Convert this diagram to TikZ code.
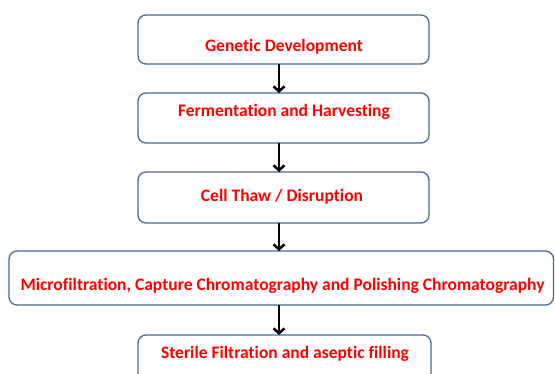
\documentclass[tikz,border=0pt]{standalone}
\usepackage{fontspec}
\setmainfont[RawFeature=-liga]{Carlito}
\usetikzlibrary{arrows.meta}
\definecolor{boxline}{HTML}{4A6A94}
\definecolor{txtred}{HTML}{FF0000}
\tikzset{
  stepbox/.style={draw=boxline, line width=1.3pt, rounded corners=8pt, rectangle, inner sep=0pt, outer sep=0pt},
  steptext/.style={anchor=base, text=txtred, font=\fontsize{17.5}{20}\selectfont\bfseries, inner sep=0pt},
  flow/.style={line width=2.8pt, -{Straight Barb[length=5pt,width=11pt,line width=2.5pt]}}
}
\begin{document}
\begin{tikzpicture}[x=1pt,y=-1pt]
\useasboundingbox (0,0) rectangle (555,374);
\clip (0,0) rectangle (555,374);
\node[stepbox, minimum width=291pt, minimum height=49pt] (box1) at (283.5,39.5) {};
\node[stepbox, minimum width=291pt, minimum height=50pt] (box2) at (283.5,118) {};
\node[stepbox, minimum width=291pt, minimum height=51pt] (box3) at (283.5,197.5) {};
\node[stepbox, minimum width=544.5pt, minimum height=54pt] (box4) at (281.25,278) {};
\node[stepbox, minimum width=293pt, minimum height=65pt] (box5) at (284.5,367.5) {};
\coordinate (ax) at (279,0);
\draw[flow] (box1.south -| ax) -- (box2.north -| ax);
\draw[flow] (box2.south -| ax) -- (box3.north -| ax);
\draw[flow] (box3.south -| ax) -- (box4.north -| ax);
\draw[flow] (box4.south -| ax) -- (box5.north -| ax);
\node[steptext] (t1) at (284,52) {Genetic Development};
\node[steptext] (t2) at (284,117) {Fermentation and Harvesting};
\node[steptext] (t3) at (282,202) {Cell Thaw / Disruption};
\node[steptext] (t4) at (282.5,291) {Microfiltration, Capture Chromatography and Polishing Chromatography};
\node[steptext] (t5) at (285,358.5) {Sterile Filtration and aseptic filling};
\end{tikzpicture}
\end{document}
